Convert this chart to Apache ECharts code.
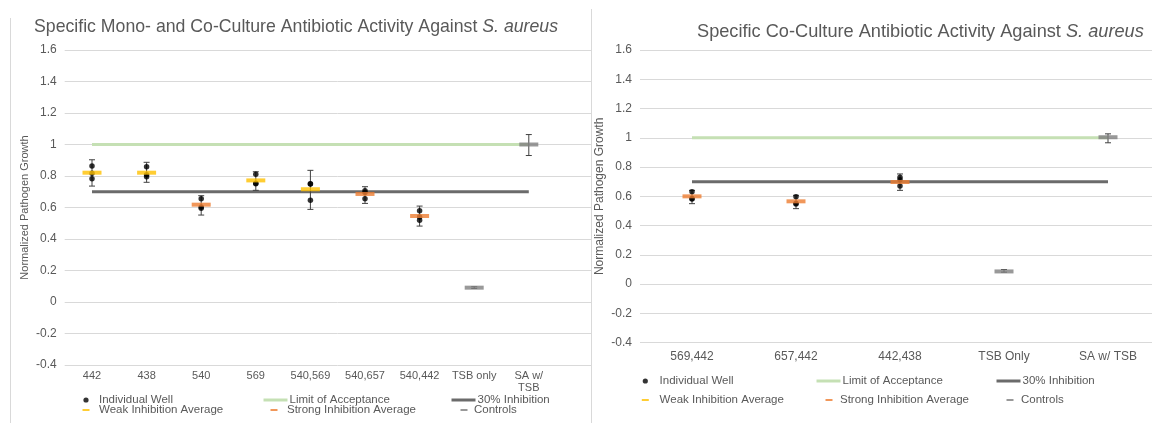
<!DOCTYPE html>
<html>
<head>
<meta charset="utf-8">
<script src="https://cdn.jsdelivr.net/npm/echarts@6/dist/echarts.min.js"></script>
<style>
  html, body { margin: 0; padding: 0; background: #fff; width: 1152px; height: 423px; overflow: hidden; }
  .box { position: absolute; top: 0; height: 423px; overflow: hidden; }
  #leftBox { left: 0; width: 591px; }
  #rightBox { left: 591px; width: 561px; }
  #leftChart { width: 620px; height: 423px; }
  #rightChart { width: 600px; height: 423px; }
</style>
</head>
<body>
<div class="box" id="leftBox"><div id="leftChart"></div></div>
<div class="box" id="rightBox"><div id="rightChart"></div></div>
<script>
// 左图：单培养与共培养
var leftCats = ['442', '438', '540', '569', '540,569', '540,657', '540,442', 'TSB only', 'SA w/ TSB'];
var leftWells = [
  [0.863, 0.817, 0.783], [0.859, 0.808, 0.796], [0.656, 0.603, 0.595], [0.811, 0.754, 0.751],
  [0.751, 0.750, 0.646], [0.707, 0.695, 0.656], [0.580, 0.539, 0.519], [], []
];
var leftWeak = [0.821, 0.821, null, 0.772, 0.716, null, null, null, null];
var leftStrong = [null, null, 0.618, null, null, 0.686, 0.546, null, null];
var leftControls = [null, null, null, null, null, null, null, 0.091, 1.0];
var leftErrLow = [0.736, 0.760, 0.552, 0.709, 0.588, 0.626, 0.482, 0.086, 0.930];
var leftErrHigh = [0.903, 0.887, 0.675, 0.827, 0.836, 0.732, 0.609, 0.097, 1.063];

// 右图：共培养
var rightCats = ['569,442', '657,442', '442,438', 'TSB Only', 'SA w/ TSB'];
var rightWells = [
  [0.632, 0.586, 0.582], [0.598, 0.552, 0.548], [0.730, 0.714, 0.671], [], []
];
var rightWeak = [null, null, null, null, null];
var rightStrong = [0.600, 0.566, 0.698, null, null];
var rightControls = [null, null, null, 0.087, 1.004];
var rightErrLow = [0.550, 0.516, 0.641, 0.082, 0.966];
var rightErrHigh = [0.641, 0.607, 0.753, 0.100, 1.027];

var limitOfAcceptance = 1.0;
var inhibition30 = 0.7;
var yTicks = { min: -0.4, max: 1.6, interval: 0.2 };

var textColor = '#595959';
var font = 'Liberation Sans, Arial, sans-serif';

function pad(arr, n) {
  var out = arr.map(function (v) { return v == null ? '-' : v; });
  while (out.length < n) out.push('-');
  return out;
}

function wellPoints(wells) {
  var pts = [];
  wells.forEach(function (list, i) {
    list.forEach(function (v) { pts.push([i, v]); });
  });
  return pts;
}

function errorBarItem(params, api) {
  var x = api.value(0);
  var lo = api.coord([x, api.value(1)]);
  var hi = api.coord([x, api.value(2)]);
  var cap = 3;
  var st = { stroke: '#404040', lineWidth: 1 };
  return {
    type: 'group',
    children: [
      { type: 'line', shape: { x1: lo[0], y1: lo[1], x2: hi[0], y2: hi[1] }, style: st },
      { type: 'line', shape: { x1: lo[0] - cap, y1: lo[1], x2: lo[0] + cap, y2: lo[1] }, style: st },
      { type: 'line', shape: { x1: hi[0] - cap, y1: hi[1], x2: hi[0] + cap, y2: hi[1] }, style: st }
    ]
  };
}

// 图例小图标（带透明边框的路径，保证图标与文字的间距）
function dotIcon(w) {
  var c = w / 2;
  return 'path://M0,0 M' + w + ',8 M' + (c + 2.6) + ',4 A2.6,2.6 0 1 1 ' + (c - 2.6) + ',4 A2.6,2.6 0 1 1 ' + (c + 2.6) + ',4 Z';
}
function dashIcon(w) {
  var c = w / 2;
  return 'path://M0,0 M' + w + ',8 M' + (c - 3.5) + ',3 L' + (c + 3.5) + ',3 L' + (c + 3.5) + ',5 L' + (c - 3.5) + ',5 Z';
}

function legendItem(name, left, top, icon, w) {
  var l = {
    data: [name], left: left, top: top, padding: 0, itemGap: 0,
    itemWidth: w, itemHeight: 8, selectedMode: false,
    textStyle: { color: textColor, fontSize: 11.5, fontFamily: font, lineHeight: 10, padding: [0, 0, 0, -3] }
  };
  if (icon) l.icon = icon;
  else {
    l.itemStyle = { opacity: 0 };
    l.lineStyle = { width: 3 };
  }
  return l;
}

function buildOption(cfg) {
  var axisCats = cfg.cats.slice();
  for (var k = 0; k < cfg.blank; k++) axisCats.push('');
  var total = axisCats.length;
  var lineA = cfg.cats.map(function () { return limitOfAcceptance; });
  var lineB = cfg.cats.map(function () { return inhibition30; });
  var errData = cfg.cats.map(function (c, i) { return [i, cfg.errLow[i], cfg.errHigh[i]]; });
  var avgStyle = { symbol: 'rect', symbolSize: [19, 4] };
  return {
    animation: false,
    title: {
      left: cfg.titleLeft, top: cfg.titleTop, padding: 0,
      text: '{a|' + cfg.title + ' }{b|S. aureus}',
      textStyle: {
        fontWeight: 'normal',
        rich: {
          a: { fontSize: cfg.titleSize, color: textColor, fontFamily: font, fontWeight: 'normal' },
          b: { fontSize: cfg.titleSize, color: textColor, fontFamily: font, fontWeight: 'normal', fontStyle: 'italic' }
        }
      }
    },
    grid: {
      left: cfg.grid[0], top: cfg.grid[1], width: cfg.grid[2], bottom: cfg.grid[3],
      containLabel: false, outerBoundsMode: 'none'
    },
    xAxis: {
      type: 'category', data: axisCats,
      axisLine: { show: false }, axisTick: { show: false }, splitLine: { show: false },
      axisLabel: {
        color: textColor, fontSize: cfg.xFont, fontFamily: font, margin: cfg.xMargin, lineHeight: 12,
        interval: 0,
        formatter: function (v) { return cfg.wrap ? v.replace('w/ ', 'w/\n') : v; }
      }
    },
    yAxis: {
      type: 'value', min: yTicks.min, max: yTicks.max, interval: yTicks.interval,
      name: 'Normalized Pathogen Growth', nameLocation: 'middle', nameGap: cfg.nameGap,
      nameMoveOverlap: false,
      nameTextStyle: { color: textColor, fontSize: cfg.nameSize, fontFamily: font },
      axisLine: { show: false }, axisTick: { show: false },
      axisLabel: { color: textColor, fontSize: 12, fontFamily: font, margin: 8 },
      splitLine: { lineStyle: { color: '#d9d9d9', width: 1 } }
    },
    legend: cfg.legends,
    graphic: cfg.graphic,
    series: [
      { name: 'Limit of Acceptance', type: 'line', data: pad(lineA, total), symbol: 'none', z: 1,
        lineStyle: { color: '#c5e0b4', width: 3 }, itemStyle: { color: '#c5e0b4' } },
      { name: '30% Inhibition', type: 'line', data: pad(lineB, total), symbol: 'none', z: 1,
        lineStyle: { color: '#6b6b6b', width: 3 }, itemStyle: { color: '#6b6b6b' } },
      { name: 'Error', type: 'custom', renderItem: errorBarItem, data: errData, z: 2,
        encode: { x: 0, y: [1, 2] } },
      { name: 'Individual Well', type: 'scatter', data: wellPoints(cfg.wells), z: 3,
        symbol: 'circle', symbolSize: 5.5, itemStyle: { color: '#000000' } },
      Object.assign({ name: 'Weak Inhibition Average', type: 'scatter', data: pad(cfg.weak, total), z: 4,
        itemStyle: { color: '#ffc000' } }, avgStyle),
      Object.assign({ name: 'Strong Inhibition Average', type: 'scatter', data: pad(cfg.strong, total), z: 4,
        itemStyle: { color: '#ed7d31' } }, avgStyle),
      Object.assign({ name: 'Controls', type: 'scatter', data: pad(cfg.controls, total), z: 4,
        itemStyle: { color: '#808080' } }, avgStyle)
    ]
  };
}

var leftChart = echarts.init(document.getElementById('leftChart'));
leftChart.setOption(buildOption({
  cats: leftCats, blank: 1, wells: leftWells, weak: leftWeak, strong: leftStrong, controls: leftControls,
  errLow: leftErrLow, errHigh: leftErrHigh,
  title: 'Specific Mono- and Co-Culture Antibiotic Activity Against', titleLeft: 34, titleTop: 18, titleSize: 17.7,
  grid: [64.7, 50, 546, 58], xFont: 11, xMargin: 5, wrap: true, nameGap: 34, nameSize: 11,
  legends: [
    legendItem('Individual Well', 75, 394, dotIcon(22), 22),
    legendItem('Limit of Acceptance', 262, 394, null, 24),
    legendItem('30% Inhibition', 450, 394, null, 24),
    legendItem('Weak Inhibition Average', 75, 404, dashIcon(22), 22),
    legendItem('Strong Inhibition Average', 263, 404, dashIcon(22), 22),
    legendItem('Controls', 456, 404, dashIcon(16), 16)
  ],
  graphic: [{ type: 'line', shape: { x1: 10.5, y1: 18, x2: 10.5, y2: 423 }, style: { stroke: '#d9d9d9', lineWidth: 1 } }]
}));

var rightChart = echarts.init(document.getElementById('rightChart'));
rightChart.setOption(buildOption({
  cats: rightCats, blank: 0, wells: rightWells, weak: rightWeak, strong: rightStrong, controls: rightControls,
  errLow: rightErrLow, errHigh: rightErrHigh,
  title: 'Specific Co-Culture Antibiotic Activity Against', titleLeft: 106, titleTop: 23, titleSize: 18.2,
  grid: [49, 50, 520, 80.3], xFont: 12, xMargin: 8, wrap: false, nameGap: 34, nameSize: 12,
  legends: [
    legendItem('Individual Well', 42, 375, dotIcon(24.6), 24.6),
    legendItem('Limit of Acceptance', 224, 375, null, 24),
    legendItem('30% Inhibition', 404, 375, null, 24),
    legendItem('Weak Inhibition Average', 42, 394, dashIcon(24.6), 24.6),
    legendItem('Strong Inhibition Average', 229, 394, dashIcon(18), 18),
    legendItem('Controls', 410, 394, dashIcon(18), 18)
  ],
  graphic: [{ type: 'line', shape: { x1: 0.5, y1: 9, x2: 0.5, y2: 423 }, style: { stroke: '#d9d9d9', lineWidth: 1 } }]
}));
</script>
</body>
</html>
